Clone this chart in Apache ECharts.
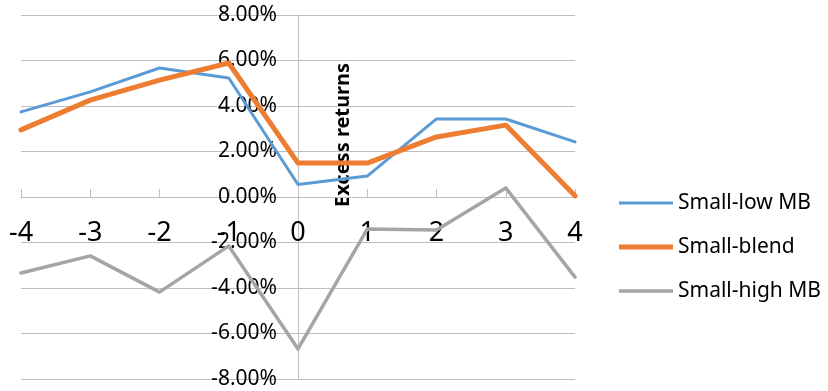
<!DOCTYPE html>
<html>
<head>
<meta charset="utf-8">
<script src="https://cdn.jsdelivr.net/npm/echarts@6/dist/echarts.min.js"></script>
<style>
  html, body { margin: 0; padding: 0; background: #fff; }
  #chart { width: 828px; height: 391px; }
</style>
</head>
<body>
<div id="chart"></div>
<script>
// Event window (days relative to the event)
const eventDays = [-4, -3, -2, -1, 0, 1, 2, 3, 4];

// Excess returns in percent
const smallLowMB   = [3.74, 4.62, 5.67, 5.23, 0.55, 0.92, 3.43, 3.43, 2.42];
const smallBlend   = [2.95, 4.26, 5.14, 5.89, 1.49, 1.49, 2.64, 3.16, 0.05];
const smallHighMB  = [-3.34, -2.59, -4.18, -2.15, -6.68, -1.41, -1.45, 0.40, -3.52];

const seriesNames = ['Small-low MB', 'Small-blend', 'Small-high MB'];
const seriesColors = ['#5B9BD5', '#ED7D31', '#A5A5A5'];
const seriesWidths = [3, 5, 3.5];
const axisTitle = 'Excess returns';

const FONT = '"Noto Sans", "Open Sans", sans-serif';

// Plot frame
const W = 828, H = 391;
const G = { left: 21, right: 253, top: 15, bottom: 12 };
const plotW = W - G.left - G.right;
const plotH = H - G.top - G.bottom;
const xMin = -4, xMax = 4, yMin = -8, yMax = 8;

// The axes cross at the origin: shift each axis from the grid edge to zero
const yAxisShift = plotW * (0 - xMin) / (xMax - xMin);
const xAxisShift = plotH * (0 - yMin) / (yMax - yMin);

function pairs(vals) {
  return eventDays.map((d, i) => [d, vals[i]]);
}

function lineSeries(i, vals) {
  return {
    name: seriesNames[i],
    type: 'line',
    data: pairs(vals),
    symbol: 'none',
    showSymbol: false,
    lineStyle: { color: seriesColors[i], width: seriesWidths[i], join: 'round', cap: 'round' },
    itemStyle: { color: seriesColors[i] },
    emphasis: { disabled: true },
    animation: false
  };
}

function legendItem(i) {
  const h = seriesWidths[i];
  return {
    name: seriesNames[i],
    icon: 'path://M0,0 L54,0 L54,' + h + ' L0,' + h + ' Z',
    itemStyle: { color: seriesColors[i] }
  };
}

const chart = echarts.init(document.getElementById('chart'), null, { renderer: 'canvas' });

chart.setOption({
  animation: false,
  backgroundColor: '#ffffff',
  grid: {
    left: G.left, right: G.right, top: G.top, bottom: G.bottom,
    containLabel: false, outerBoundsMode: 'none'
  },
  xAxis: {
    type: 'value',
    min: xMin,
    max: xMax,
    interval: 1,
    position: 'bottom',
    offset: -xAxisShift,
    axisLine: { onZero: false, lineStyle: { color: '#BFBFBF', width: 1 } },
    axisTick: { show: true, inside: true, length: 8, lineStyle: { color: '#BFBFBF' } },
    axisLabel: { color: '#000', fontSize: 27, fontFamily: FONT, margin: 23 },
    splitLine: { show: false }
  },
  yAxis: {
    type: 'value',
    min: yMin,
    max: yMax,
    interval: 2,
    position: 'left',
    offset: -yAxisShift,
    axisLine: { show: true, onZero: false, lineStyle: { color: '#BFBFBF', width: 1 } },
    axisTick: { show: false },
    axisLabel: {
      color: '#000', fontSize: 21, fontFamily: FONT, margin: 21,
      formatter: v => v.toFixed(2) + '%'
    },
    splitLine: { show: true, lineStyle: { color: '#BFBFBF', width: 1 } }
  },
  legend: {
    orient: 'vertical',
    left: 614,
    top: 187,
    itemWidth: 54,
    itemHeight: 22,
    itemGap: 22,
    symbolKeepAspect: true,
    textStyle: { color: '#000', fontSize: 21, fontFamily: FONT, lineHeight: 22 },
    data: [0, 1, 2].map(legendItem)
  },
  graphic: [{
    type: 'text',
    x: 343,
    y: 135,
    rotation: Math.PI / 2,
    style: {
      text: axisTitle,
      font: 'bold 20px ' + FONT,
      fill: '#000',
      align: 'center',
      verticalAlign: 'middle'
    }
  }],
  series: [
    lineSeries(0, smallLowMB),
    lineSeries(1, smallBlend),
    lineSeries(2, smallHighMB)
  ]
});
</script>
</body>
</html>
